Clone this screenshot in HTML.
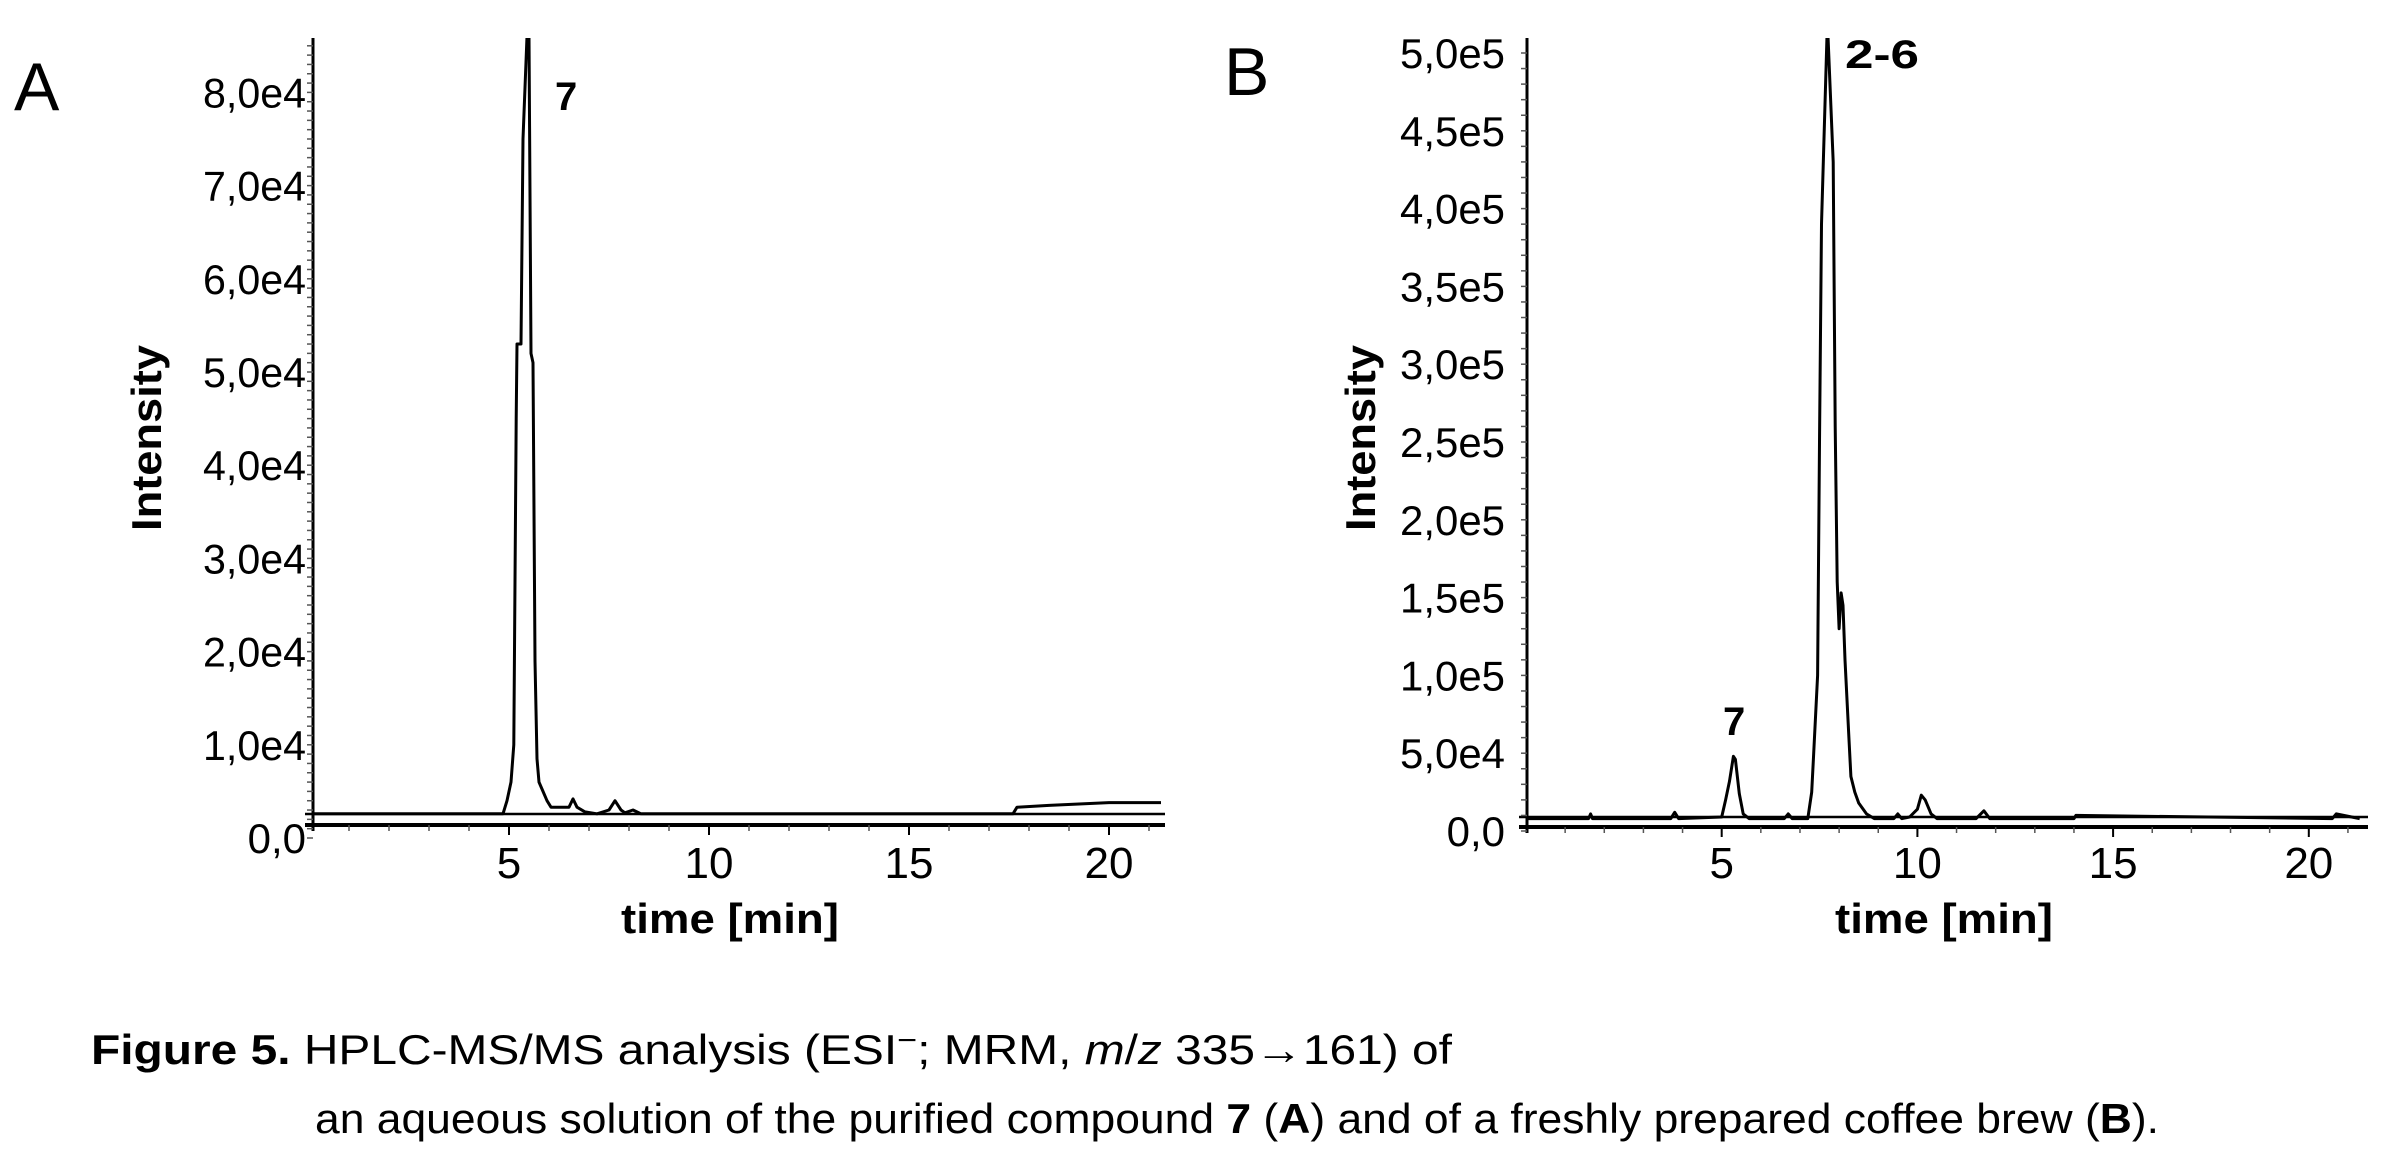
<!DOCTYPE html>
<html><head><meta charset="utf-8">
<style>
html,body{margin:0;padding:0;background:#fff;}
svg{display:block;}
text{font-family:"Liberation Sans Narrow","Liberation Sans",sans-serif;fill:#000;}
.b{font-weight:bold;font-family:"Liberation Sans",sans-serif;}
</style></head>
<body>
<svg id="fig" width="2384" height="1153" viewBox="0 0 2384 1153" xmlns="http://www.w3.org/2000/svg">
  <rect width="2384" height="1153" fill="#fff"/>
  <text x="14" y="110" font-size="68" style="font-family:'Liberation Sans',sans-serif">A</text>
  <text x="1224" y="95" font-size="68" style="font-family:'Liberation Sans',sans-serif">B</text>
  <g id="panelA"></g>
  <g id="panelB"></g>
  <text class="b" x="555" y="110" font-size="40">7</text>
  <text class="b" x="1845" y="68" font-size="40" textLength="74" lengthAdjust="spacingAndGlyphs">2-6</text>
  <text class="b" x="1723" y="735" font-size="40">7</text>
  <g font-size="42">
    <text x="91" y="1064" textLength="1361" lengthAdjust="spacingAndGlyphs"><tspan font-weight="bold">Figure 5.</tspan>  HPLC-MS/MS analysis (ESI<tspan dy="-14" font-size="30">−</tspan><tspan dy="14">; MRM, </tspan><tspan font-style="italic">m</tspan>/<tspan font-style="italic">z</tspan> 335→161) of</text>
    <text x="315" y="1133" textLength="1844" lengthAdjust="spacingAndGlyphs">an aqueous solution of the purified compound <tspan font-weight="bold">7</tspan> (<tspan font-weight="bold">A</tspan>) and of a freshly prepared coffee brew (<tspan font-weight="bold">B</tspan>).</text>
  </g>
</svg>
<script>
// Panel A data (time in min, intensity in counts)
const timeA = [0,4.85,4.95,5.05,5.12,5.18,5.2,5.3,5.35,5.45,5.5,5.55,5.6,5.65,5.7,5.75,5.85,5.95,6.05,6.5,6.6,6.7,6.9,7.2,7.5,7.65,7.8,7.9,8.1,8.3,17.6,17.7,18.5,20.0,21.3];
const intensityA = [2600,2600,4000,6000,10000,45000,53000,53000,75000,86000,86000,52000,51000,19000,8500,6000,5000,4000,3300,3300,4200,3300,2800,2600,3000,4000,3000,2700,3000,2600,2600,3300,3500,3800,3800];
const yTicksA = [0,10000,20000,30000,40000,50000,60000,70000,80000];
const yTickLabelsA = ["0,0","1,0e4","2,0e4","3,0e4","4,0e4","5,0e4","6,0e4","7,0e4","8,0e4"];
// Panel B data
const timeB = [0,1.6,1.65,1.7,2.2,3.7,3.8,3.9,5.0,5.1,5.2,5.3,5.35,5.45,5.55,5.7,6.6,6.7,6.8,7.2,7.3,7.35,7.45,7.5,7.55,7.7,7.85,7.9,7.95,8.0,8.05,8.1,8.15,8.25,8.3,8.4,8.5,8.7,8.9,9.4,9.5,9.6,9.8,10.0,10.1,10.2,10.35,10.5,11.5,11.7,11.85,14.0,14.05,20.6,20.7,21.3];
const intensityB = [8000,8000,11000,8000,8000,8000,12000,8000,9000,20000,32000,48000,46000,24000,11000,8000,8000,11000,8000,8000,25000,50000,100000,250000,390000,520000,430000,260000,160000,130000,153000,145000,110000,60000,35000,25000,18000,11000,8000,8000,11000,8000,9000,14000,23000,20000,11000,8000,8000,13000,8000,8000,10000,8000,11000,8000];
const yTicksB = [0,50000,100000,150000,200000,250000,300000,350000,400000,450000,500000];
const yTickLabelsB = ["0,0","5,0e4","1,0e5","1,5e5","2,0e5","2,5e5","3,0e5","3,5e5","4,0e5","4,5e5","5,0e5"];
const xTicks = [5,10,15,20];
const xTickLabels = ["5","10","15","20"];

const NS = "http://www.w3.org/2000/svg";
function mk(tag, parent, attrs){
  const e = document.createElementNS(NS, tag);
  for (const k in attrs) e.setAttribute(k, attrs[k]);
  parent.appendChild(e);
  return e;
}

function drawPanel(g, cfg){
  const x = t => cfg.x0 + t * cfg.pxPerMin;
  const y = v => cfg.y0 - v * cfg.pxPerUnit;
  const cp = mk('clipPath', g, {id: cfg.id + '-clip'});
  mk('rect', cp, {x: cfg.axX, y: cfg.top, width: cfg.x1 - cfg.axX, height: cfg.axisY - cfg.top + 10});
  const ya = mk('line', g, {x1: cfg.axX, y1: cfg.top, x2: cfg.axX, y2: cfg.axisY + 6, stroke: '#000', 'stroke-width': 3});
  
  
  const xa = mk('line', g, {x1: cfg.axX - 8, y1: cfg.axisY, x2: cfg.x1, y2: cfg.axisY, stroke: '#000', 'stroke-width': 4});
  
  
  const bl = mk('line', g, {x1: cfg.axX - 8, y1: cfg.baseY, x2: cfg.x1, y2: cfg.baseY, stroke: '#000', 'stroke-width': 2.5});
  
  
  const step = cfg.yTicks[1] / cfg.minorDiv;
  for (let v = 0; y(v) >= cfg.top; v += step){
    const m = mk('line', g, {x1: cfg.axX - 6, y1: y(v), x2: cfg.axX, y2: y(v), stroke: '#555', 'stroke-width': 1.5});
    
    
  }
  for (let t = 1; x(t) <= cfg.x1; t += 1){
    const m = mk('line', g, {x1: x(t), y1: cfg.axisY, x2: x(t), y2: cfg.axisY + 6, stroke: '#555', 'stroke-width': 1.5});
    
    
  }
  cfg.yTicks.forEach((v, i) => {
    const lbl = cfg.yLabels[i];
    const tx = mk('text', g, {x: cfg.labelRight, y: y(v) + 15, 'text-anchor': 'end', 'font-size': 42});
    if (lbl.length > 3) { tx.setAttribute('textLength', cfg.labW); tx.setAttribute('lengthAdjust', 'spacingAndGlyphs'); }
    tx.textContent = lbl;
    
    
  });
  xTicks.forEach((t, i) => {
    const tk = mk('line', g, {x1: x(t), y1: cfg.axisY, x2: x(t), y2: cfg.axisY + 10, stroke: '#000', 'stroke-width': 2});
    
    
    const tx = mk('text', g, {x: x(t), y: 878, 'text-anchor': 'middle', 'font-size': 44});
    tx.textContent = xTickLabels[i];
    
    
  });
  const xt = mk('text', g, {x: cfg.axX + 417, y: 933, 'text-anchor': 'middle', 'font-size': 42, 'class': 'b', textLength: 218, lengthAdjust: 'spacingAndGlyphs'});
  xt.textContent = 'time [min]';
  
  
  const yt = mk('text', g, {x: 0, y: 0, 'text-anchor': 'middle', 'font-size': 42, 'class': 'b', textLength: 186, lengthAdjust: 'spacingAndGlyphs', transform: `translate(${cfg.axX - 152},${438}) rotate(-90)`});
  yt.textContent = 'Intensity';
  
  
  const pts = cfg.t.map((t, i) => x(t).toFixed(1) + ',' + y(cfg.v[i]).toFixed(1)).join(' ');
  const pl = mk('polyline', g, {points: pts, fill: 'none', stroke: '#000', 'stroke-width': 3, 'stroke-linejoin': 'round', 'clip-path': `url(#${cfg.id}-clip)`});
  
  
}

drawPanel(document.getElementById('panelA'), {
  id: 'pa', axX: 313, x0: 309, x1: 1165, pxPerMin: 40.0, y0: 838, pxPerUnit: 93.2 / 10000,
  axisY: 825, baseY: 814, top: 38, labelRight: 306, labW: 103, minorDiv: 10,
  yTicks: yTicksA, yLabels: yTickLabelsA, t: timeA, v: intensityA
});
drawPanel(document.getElementById('panelB'), {
  id: 'pb', axX: 1527, x0: 1526, x1: 2368, pxPerMin: 39.14, y0: 831, pxPerUnit: 77.8 / 50000,
  axisY: 827, baseY: 817, top: 38, labelRight: 1505, labW: 105, minorDiv: 5,
  yTicks: yTicksB, yLabels: yTickLabelsB, t: timeB, v: intensityB
});
</script>
</body></html>
